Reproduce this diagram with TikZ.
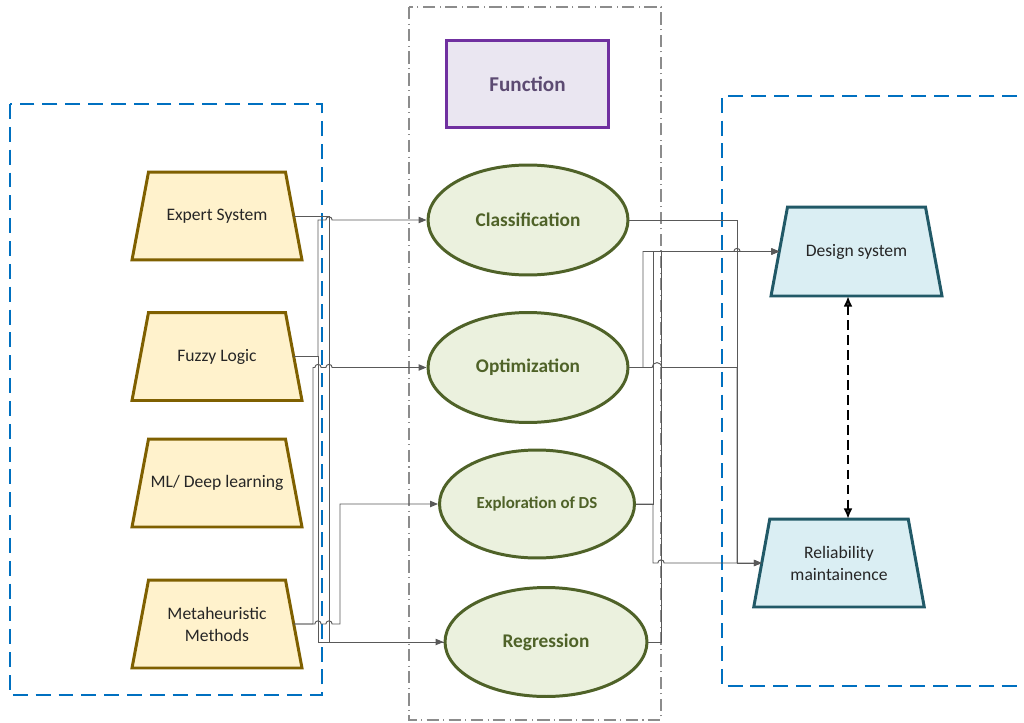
\documentclass[tikz,border=0pt]{standalone}
\usepackage{fontspec}
\setmainfont{Carlito}
\usetikzlibrary{shapes.geometric,arrows.meta,calc,backgrounds}

\definecolor{frameblue}{HTML}{0070C0}
\definecolor{framegray}{HTML}{8C8C8C}
\definecolor{goldline}{HTML}{7F6000}
\definecolor{goldfill}{HTML}{FFF2CC}
\definecolor{tealline}{HTML}{215967}
\definecolor{tealfill}{HTML}{DAEEF3}
\definecolor{oliveline}{HTML}{4F6228}
\definecolor{olivefill}{HTML}{EBF1DE}
\definecolor{purpleline}{HTML}{7030A0}
\definecolor{purplefill}{HTML}{EAE6F1}
\definecolor{purpletext}{HTML}{5C4A72}
\definecolor{labeltext}{HTML}{262626}
\definecolor{wiregray}{HTML}{595959}

% a small jump of a horizontal wire over a vertical one
% #1: point giving the height, #2: point giving the x position, #3: radius
\newcommand\hopover[3]{-- ($(#1 -| #2)+(-#3,0)$) arc[start angle=180,end angle=0,radius=#3]}

% trapezoid outline round a text node; the node spans the mid-height width
% #1: node name, #2: style, #3: half of the horizontal inset
\newcommand\trapoutline[3]{%
  \path[#2] ($(#1.south west)+(-#3,0)$) -- ($(#1.south east)+(#3,0)$)
    -- ($(#1.north east)+(-#3,0)$) -- ($(#1.north west)+(#3,0)$) -- cycle;}

\tikzset{
  bluebox/.style={draw=frameblue, line width=1.5pt, dash pattern=on 8.5pt off 4.5pt},
  graybox/.style={draw=framegray, line width=0.8pt, dash pattern=on 7pt off 2.5pt on 0.6pt off 2.5pt},
  fnbox/.style={draw=purpleline, fill=purplefill, line width=1.7pt, minimum width=3.26cm,
    minimum height=1.76cm, text=purpletext, font=\fontsize{12}{14}\selectfont\bfseries},
  traptext/.style={rectangle, outer sep=0pt, inner sep=1pt, minimum width=3.07cm,
    minimum height=1.76cm, text=labeltext, align=center, font=\fontsize{10}{12.5}\selectfont},
  goldtrap/.style={draw=goldline, fill=goldfill, line width=1.7pt, line join=miter},
  tealtrap/.style={draw=tealline, fill=tealfill, line width=1.7pt, line join=miter},
  fnell/.style={ellipse, draw=oliveline, fill=olivefill, line width=1.7pt,
    minimum width=4cm, minimum height=2.2cm, inner sep=1pt, text=oliveline,
    font=\fontsize{11}{13}\selectfont\bfseries},
  wire/.style={draw=wiregray, line width=0.55pt},
  arrowwire/.style={wire, -{Triangle[length=4.5pt,width=3.6pt]}},
  linkdash/.style={draw=black, line width=1.2pt, dash pattern=on 5.5pt off 3pt,
    {Latex[open,length=6pt,width=5pt]}-{Latex[open,length=6pt,width=5pt]}}
}

\begin{document}
\begin{tikzpicture}[x=0.02cm, y=-0.02cm]
\useasboundingbox (0,0) rectangle (1024,723);

% grouping frames
\draw[bluebox] (10,104) rectangle (322,695);
\draw[bluebox] (1040,96) -- (722,96) -- (722,686) -- (1040,686);
\draw[graybox] (409,7) rectangle (661,720);

% header
\node[fnbox] (fn) at (527.5,84) {Function};

% methods
\node[traptext] (es) at (217,216) {Expert System};
\node[traptext] (fl) at (217,356.5) {Fuzzy Logic};
\node[traptext] (ml) at (217,483) {ML/ Deep learning};
\node[traptext] (mh) at (217,624) {Metaheuristic\\Methods};

% functions
\node[fnell] (cl) at (528,220) {Classification};
\node[fnell] (op) at (528,367.5) {Optimization};
\node[fnell, minimum width=3.9cm, minimum height=2.16cm,
      font=\fontsize{9.6}{11}\selectfont\bfseries] (ex) at (537,504) {Exploration of DS};
\node[fnell, minimum width=4.04cm, minimum height=2.18cm] (rg) at (546,642) {Regression};

% application areas
\node[traptext, minimum width=3.09cm, minimum height=1.78cm] (ds) at (856.5,251.5) {Design system};
\node[traptext, minimum width=3.09cm] (rl) at (839,563) {Reliability\\maintainence};

% trapezoid bodies behind the labels
\begin{scope}[on background layer]
  \trapoutline{es}{goldtrap}{8.25}
  \trapoutline{fl}{goldtrap}{8.25}
  \trapoutline{ml}{goldtrap}{8.25}
  \trapoutline{mh}{goldtrap}{8.25}
  \trapoutline{ds}{tealtrap}{8.25}
  \trapoutline{rl}{tealtrap}{8}
\end{scope}

% wire columns
\coordinate (bA) at (313,0);
\coordinate (bB) at (318,0);
\coordinate (bC) at (329,0);
\coordinate (bD) at (340,0);
\coordinate (bE) at (643,0);
\coordinate (bF) at (653,0);
\coordinate (bFG) at (657,0);
\coordinate (bG) at (661,0);
\coordinate (bH) at (737,0);
\coordinate (mx) at (848,0);

% methods to functions
\draw[wire] (es.east) -- (es.east -| bC) -- (bC |- rg.west) -- (rg.west);
\draw[arrowwire] (fl.east) -- (fl.east -| bB) -- (bB |- rg.west) -- (rg.west);
\draw[arrowwire] (fl.east) -- (fl.east -| bB) -- (bB |- cl.west)
  \hopover{cl.west}{bC}{1.8pt} -- (cl.west);
\draw[arrowwire] (mh.east) -- (mh.east -| bA) -- (bA |- op.west)
  \hopover{op.west}{bB}{1.8pt} \hopover{op.west}{bC}{1.8pt} -- (op.west);
\draw[arrowwire] (mh.east) \hopover{mh.east}{bB}{1.8pt} \hopover{mh.east}{bC}{1.8pt}
  -- (mh.east -| bD) -- (bD |- ex.west) -- (ex.west);

% functions to application areas
\draw[arrowwire] (cl.east) -- (cl.east -| bH) -- (bH |- rl.west) -- (rl.west);
\draw[arrowwire] (op.east) -- (op.east -| bE) -- (bE |- ds.west)
  \hopover{ds.west}{bH}{1.8pt} -- (ds.west);
\draw[wire] (op.east) \hopover{op.east}{bFG}{2.8pt} -- (op.east -| bH) -- (bH |- rl.west);
\draw[arrowwire] (ex.east) -- (ex.east -| bF) -- (bF |- ds.west) -- (ds.west);
\draw[arrowwire] (ex.east) -- (ex.east -| bF) -- (bF |- rl.west)
  \hopover{rl.west}{bG}{1.8pt} -- (rl.west);
\draw[arrowwire] (rg.east) -- (rg.east -| bG) -- (bG |- ds.west) -- (ds.west);

% link between the two application areas
\draw[linkdash] (ds.south -| mx) -- (rl.north -| mx);
\end{tikzpicture}
\end{document}
